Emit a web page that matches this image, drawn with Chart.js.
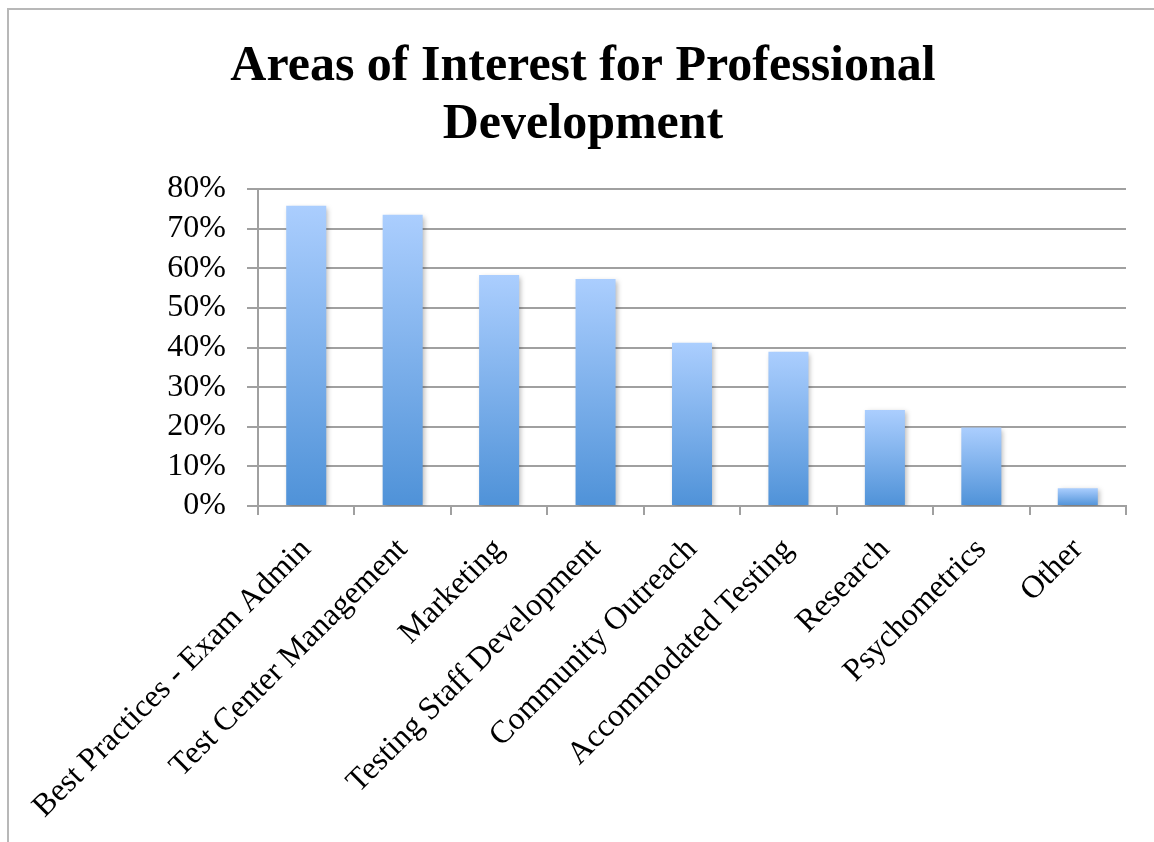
<!DOCTYPE html>
<html>
<head>
<meta charset="utf-8">
<script src="https://cdn.jsdelivr.net/npm/chart.js@4"></script>
<style>
    html, body { margin: 0; padding: 0; background: #fff; }
    #wrap { position: relative; width: 1154px; height: 842px; overflow: hidden; }
    #frame { position: absolute; left: 7px; top: 8px; width: 1200px; height: 900px;
             border-left: 2px solid #b8b8b8; border-top: 2px solid #b8b8b8; }
    #chartBox { position: absolute; left: 0; top: 0; width: 1154px; height: 842px; }
</style>
</head>
<body>
<div id="wrap">
    <div id="frame"></div>
    <div id="chartBox"><canvas id="interestChart" width="1154" height="842"></canvas></div>
</div>
<script>
// Categories and values (percent of respondents)
var categories = [
    'Best Practices - Exam Admin',
    'Test Center Management',
    'Marketing',
    'Testing Staff Development',
    'Community Outreach',
    'Accommodated Testing',
    'Research',
    'Psychometrics',
    'Other'
];
var interestValues = [75.8, 73.5, 58.3, 57.3, 41.2, 38.9, 24.2, 19.8, 4.5];
var yTicks = [0, 10, 20, 30, 40, 50, 60, 70, 80];
var titleLines = ['Areas of Interest for Professional', 'Development'];

var serif = '"Liberation Serif", "Times New Roman", serif';

// each bar gets its own light-to-dark gradient, top to bottom
function barGradient(context) {
    var chart = context.chart;
    if (!chart.chartArea || !chart.scales.y) {
        return '#7fb0ea';
    }
    var top = chart.scales.y.getPixelForValue(context.raw);
    var bottom = chart.scales.y.getPixelForValue(0);
    var g = chart.ctx.createLinearGradient(0, top, 0, bottom);
    g.addColorStop(0, '#abcefe');
    g.addColorStop(1, '#4f92d8');
    return g;
}

// soft drop shadow behind the bars
var barShadow = {
    id: 'barShadow',
    beforeDatasetsDraw: function(chart) {
        var c = chart.ctx;
        c.save();
        c.shadowColor = 'rgba(0,0,0,0.28)';
        c.shadowBlur = 5;
        c.shadowOffsetX = 2;
        c.shadowOffsetY = 2;
    },
    afterDatasetsDraw: function(chart) {
        chart.ctx.restore();
    }
};

var ctx = document.getElementById('interestChart').getContext('2d');

var interestChart = new Chart(ctx, {
    type: 'bar',
    data: {
        labels: categories,
        datasets: [{
            data: interestValues,
            backgroundColor: barGradient,
            borderWidth: 0,
            categoryPercentage: 1,
            barPercentage: 0.415
        }]
    },
    plugins: [barShadow],
    options: {
        responsive: false,
        animation: false,
        // left padding keeps the title centred where the reference has it
        layout: { padding: { left: 40, right: 28, top: 0, bottom: 0 } },
        plugins: {
            legend: { display: false },
            tooltip: { enabled: false },
            title: {
                display: true,
                text: titleLines,
                color: '#000',
                font: { family: serif, size: 50, weight: 'bold', lineHeight: 1.16 },
                padding: { top: 38, bottom: 35 }
            }
        },
        scales: {
            x: {
                grid: {
                    offset: true,
                    drawOnChartArea: false,
                    drawTicks: true,
                    tickLength: 9,
                    color: '#a0a0a0',
                    lineWidth: 2
                },
                border: { color: '#a0a0a0', width: 2 },
                ticks: {
                    color: '#000',
                    font: { family: serif, size: 32 },
                    maxRotation: 45,
                    minRotation: 45,
                    padding: 16,
                    autoSkip: false
                },
                afterFit: function(scale) { scale.height = 336; }
            },
            y: {
                min: 0,
                max: 80,
                afterBuildTicks: function(scale) {
                    scale.ticks = yTicks.map(function(v) { return { value: v }; });
                },
                grid: {
                    color: '#a0a0a0',
                    lineWidth: 2,
                    tickLength: 11
                },
                border: { color: '#a0a0a0', width: 2 },
                ticks: {
                    color: '#000',
                    font: { family: serif, size: 32 },
                    padding: 21,
                    autoSkip: false,
                    callback: function(v) { return v + '%'; }
                },
                afterFit: function(scale) { scale.width = 218; }
            }
        }
    }
});
</script>
</body>
</html>
